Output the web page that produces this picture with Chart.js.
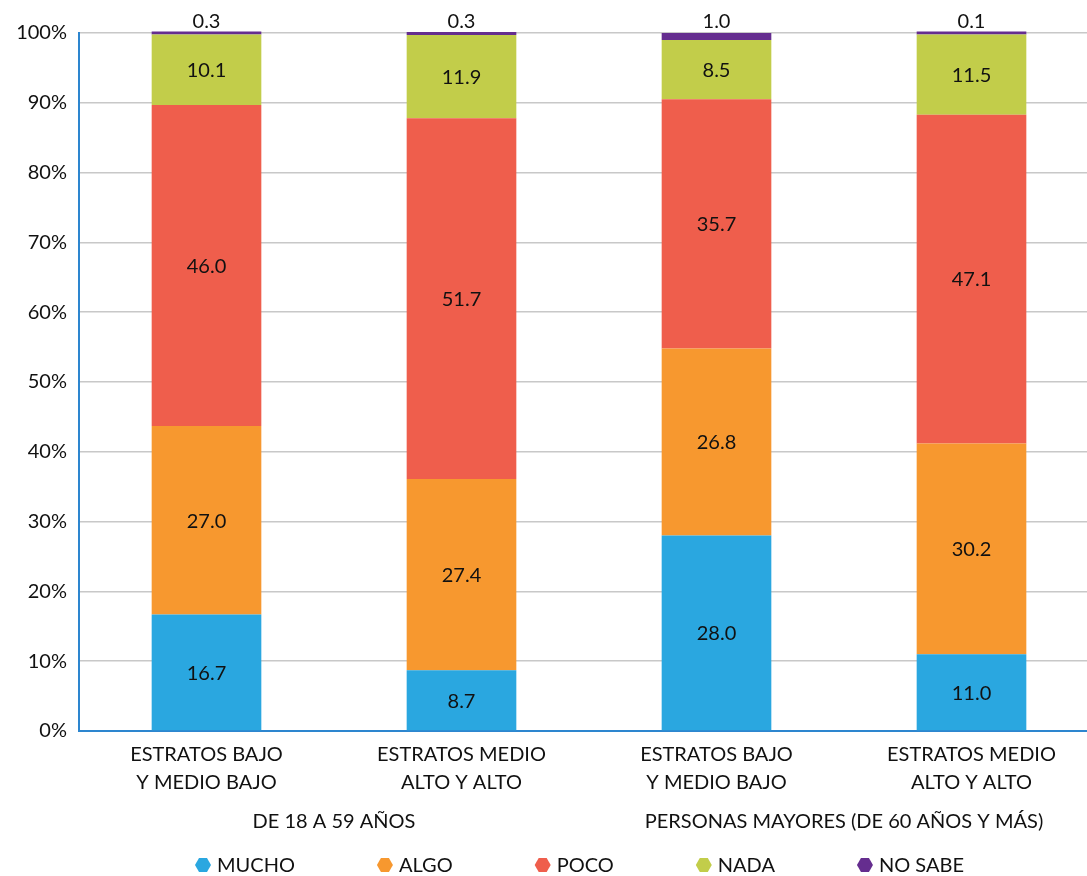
<!DOCTYPE html>
<html>
<head>
<meta charset="utf-8">
<script src="https://cdn.jsdelivr.net/npm/chart.js@4.4.1/dist/chart.umd.min.js"></script>
<style>
  html, body { margin: 0; padding: 0; background: #fff; overflow: hidden; }
  #wrap { width: 1099px; height: 876px; }
</style>
</head>
<body>
<div id="wrap"><canvas id="chart" width="1099" height="876"></canvas></div>
<script>
// Categories (two-line labels) and the age groups they belong to
const categories = [
  ["ESTRATOS BAJO", "Y MEDIO BAJO"],
  ["ESTRATOS MEDIO", "ALTO Y ALTO"],
  ["ESTRATOS BAJO", "Y MEDIO BAJO"],
  ["ESTRATOS MEDIO", "ALTO Y ALTO"]
];
const groups = ["DE 18 A 59 AÑOS", "PERSONAS MAYORES (DE 60 AÑOS Y MÁS)"];

// Series values (%)
const mucho = [16.7, 8.7, 28.0, 11.0];
const algo = [27.0, 27.4, 26.8, 30.2];
const poco = [46.0, 51.7, 35.7, 47.1];
const nada = [10.1, 11.9, 8.5, 11.5];
const noSabe = [0.3, 0.3, 1.0, 0.1];

const seriesNames = ["MUCHO", "ALGO", "POCO", "NADA", "NO SABE"];
const seriesData = [mucho, algo, poco, nada, noSabe];
const seriesColors = ["#2aa7e0", "#f7982f", "#ef5e4c", "#c2cd4a", "#652d8f"];

const yTicks = [0, 10, 20, 30, 40, 50, 60, 70, 80, 90, 100];

const FONT = "Lato, 'Noto Sans', sans-serif";
const TEXT = "#111";

// Value labels inside the bars, NO SABE above the bar
const valueLabels = {
  id: "valueLabels",
  afterDatasetsDraw(chart) {
    const ctx = chart.ctx;
    ctx.save();
    ctx.font = "20px " + FONT;
    ctx.fillStyle = TEXT;
    ctx.textAlign = "center";
    ctx.textBaseline = "middle";
    chart.data.datasets.forEach((ds, i) => {
      const meta = chart.getDatasetMeta(i);
      meta.data.forEach((bar, j) => {
        const txt = ds.data[j].toFixed(1);
        if (i === chart.data.datasets.length - 1) {
          ctx.fillText(txt, bar.x, 22);
        } else {
          ctx.fillText(txt, bar.x, (bar.y + bar.base) / 2 + 1);
        }
      });
    });
    ctx.restore();
  }
};

// Group labels under the categories and the hexagon legend
const extras = {
  id: "extras",
  afterDraw(chart) {
    const ctx = chart.ctx;
    const x = chart.scales.x;
    ctx.save();
    ctx.font = "20px " + FONT;
    ctx.fillStyle = TEXT;
    ctx.textAlign = "center";
    ctx.textBaseline = "middle";
    groups.forEach((g, k) => {
      const cx = (x.getPixelForValue(k * 2) + x.getPixelForValue(k * 2 + 1)) / 2;
      ctx.fillText(g, cx, 822);
    });

    // legend
    let lx = 195;
    const ly = 865;
    ctx.textAlign = "left";
    seriesNames.forEach((name, i) => {
      const cx = lx + 8;
      ctx.beginPath();
      ctx.moveTo(cx - 8, ly);
      ctx.lineTo(cx - 4, ly - 7);
      ctx.lineTo(cx + 4, ly - 7);
      ctx.lineTo(cx + 8, ly);
      ctx.lineTo(cx + 4, ly + 7);
      ctx.lineTo(cx - 4, ly + 7);
      ctx.closePath();
      ctx.fillStyle = seriesColors[i];
      ctx.fill();
      ctx.fillStyle = TEXT;
      ctx.fillText(name, lx + 22, ly + 1);
      lx += 22 + ctx.measureText(name).width + 82;
    });
    ctx.restore();
  }
};

new Chart(document.getElementById("chart"), {
  type: "bar",
  data: {
    labels: categories,
    datasets: seriesNames.map((name, i) => ({
      label: name,
      data: seriesData[i],
      backgroundColor: seriesColors[i],
      borderWidth: 0,
      barPercentage: 0.43,
      categoryPercentage: 1,
      minBarLength: i === seriesNames.length - 1 ? 3 : 0,
      clip: false
    }))
  },
  options: {
    responsive: false,
    animation: false,
    layout: { padding: { top: 33, right: 0, bottom: 0, left: 0 } },
    plugins: {
      legend: { display: false },
      tooltip: { enabled: false }
    },
    scales: {
      x: {
        stacked: true,
        grid: { display: false, drawTicks: false },
        border: { color: "#2d86cf", width: 2 },
        ticks: {
          color: TEXT,
          padding: 10,
          maxRotation: 0,
          font: { family: FONT, size: 20, lineHeight: 1.4 }
        },
        afterFit(scale) { scale.height = 145; }
      },
      y: {
        stacked: true,
        min: 0,
        max: 100,
        afterBuildTicks(scale) { scale.ticks = yTicks.map(v => ({ value: v })); },
        grid: { color: "#c8c8c8", lineWidth: 1.5, drawTicks: false },
        border: { color: "#2d86cf", width: 2 },
        ticks: {
          color: TEXT,
          padding: 12,
          font: { family: FONT, size: 20 },
          callback: v => v + "%"
        },
        afterFit(scale) { scale.width = 79; }
      }
    }
  },
  plugins: [valueLabels, extras]
});
</script>
</body>
</html>
